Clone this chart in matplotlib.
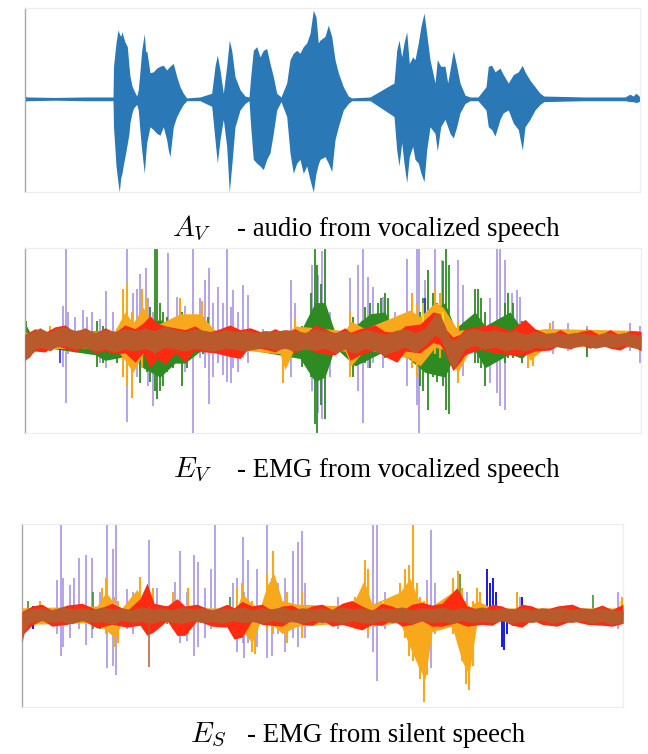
import numpy as np
import matplotlib.pyplot as plt

plt.rcParams["mathtext.fontset"] = "cm"

# ---- A_V : audio envelope (t, upper, lower), t in frames, amplitude normalised ----
audio = [
    (0, 0.03, -0.03), (2, 0.02, -0.02), (30, 0.015, -0.015), (60, 0.02, -0.02), (88, 0.02, -0.02),
    (88.5, 0.35, -0.30), (90, 0.50, -0.55), (91, 0.60, -0.72), (93, 0.74, -0.90), (94.3, 0.70, -1.0),
    (95.7, 0.67, -0.85), (97, 0.72, -0.80), (98.5, 0.66, -0.70), (100, 0.61, -0.62), (102.3, 0.56, -0.48),
    (104, 0.35, -0.37), (105, 0.24, -0.25), (107, 0.14, -0.15), (108.5, 0.10, -0.10), (111.7, 0.03, -0.06),
    (113.3, 0.10, -0.12), (115, 0.30, -0.35), (116.7, 0.52, -0.55), (119.3, 0.70, -0.80), (120.7, 0.50, -0.60),
    (121.7, 0.52, -0.47), (125, 0.28, -0.30), (128.3, 0.29, -0.33), (131.7, 0.33, -0.37), (135, 0.35, -0.39),
    (138.3, 0.36, -0.30), (141.7, 0.31, -0.44), (143.3, 0.33, -0.55), (145, 0.35, -0.62), (148.3, 0.38, -0.30),
    (151.7, 0.24, -0.19), (155, 0.13, -0.12), (158.3, 0.06, -0.06), (161.7, 0.01, -0.02), (175, 0.02, -0.02),
    (186.7, 0.06, -0.08), (190, 0.35, -0.44), (192.3, 0.47, -0.69), (195, 0.31, -0.44), (198.3, 0.06, -0.22),
    (201.7, 0.35, -0.51), (204.3, 0.63, -1.0), (206.7, 0.52, -0.72), (210, 0.24, -0.30), (215, 0.10, -0.12),
    (220, 0.03, -0.05), (224, 0.02, -0.02),
    (225.7, 0.24, -0.30), (228.3, 0.52, -0.65), (231.7, 0.56, -0.69), (235, 0.45, -0.72), (238.3, 0.52, -0.76),
    (241.7, 0.54, -0.65), (245, 0.38, -0.58), (248.3, 0.24, -0.37), (251.7, 0.06, -0.12), (256, 0.02, -0.03),
    (261.7, 0.17, -0.19), (265, 0.42, -0.58), (268.3, 0.49, -0.80), (271.7, 0.52, -0.69), (275, 0.49, -0.65),
    (278.3, 0.56, -0.80), (281.7, 0.60, -0.72), (285, 0.70, -0.87), (288.3, 0.95, -1.0), (291, 0.88, -0.80),
    (293.3, 0.60, -0.70), (295, 0.63, -0.65), (300, 0.67, -0.62), (303.3, 0.79, -0.69), (306.7, 0.67, -0.78),
    (310, 0.42, -0.44), (313.3, 0.28, -0.30), (318.3, 0.13, -0.12), (323.3, 0.03, -0.05), (326.7, 0.01, -0.02),
    (345, 0.02, -0.02),
    (369, 0.17, -0.19), (371.7, 0.52, -0.55), (374, 0.63, -0.72), (376.7, 0.45, -0.47), (379, 0.60, -0.69),
    (381.7, 0.72, -0.90), (384.3, 0.38, -0.62), (387.7, 0.45, -0.51), (390, 0.42, -0.65), (393.3, 0.60, -0.69),
    (396, 0.78, -0.80), (399, 0.92, -0.89), (401.7, 0.70, -0.55), (405, 0.42, -0.30), (410, 0.17, -0.37),
    (412.3, 0.42, -0.56), (415.7, 0.35, -0.30), (420, 0.35, -0.22), (422.7, 0.17, -0.30), (425, 0.31, -0.37),
    (428.3, 0.52, -0.42), (431.7, 0.35, -0.30), (435, 0.17, -0.15), (440, 0.04, -0.05), (445, 0.02, -0.02),
    (453, 0.02, -0.02),
    (461, 0.13, -0.12), (463.3, 0.35, -0.30), (466.7, 0.36, -0.33), (470, 0.29, -0.40), (475, 0.33, -0.22),
    (478.3, 0.26, -0.15), (483.3, 0.17, -0.12), (488.3, 0.26, -0.26), (493.3, 0.29, -0.33), (497.3, 0.36, -0.55),
    (500, 0.29, -0.30), (505, 0.20, -0.22), (510, 0.13, -0.12), (515, 0.06, -0.06), (519, 0.03, -0.03),
    (560, 0.02, -0.02), (600, 0.02, -0.02), (605, 0.05, -0.03), (608, 0.03, -0.03), (611, 0.06, -0.04),
    (614, 0.03, -0.03), (615, 0.02, -0.02),
]

# ---- E_V : EMG from vocalized speech ----
ev_purple = [
    (38.3, 0.36, -0.29), (41, 0.98, -0.68), (43.3, 0.30, -0.15), (50, 0.25, -0.10), (57.7, 0.32, -0.12),
    (62.3, 0.25, -0.10), (66.7, 0.30, -0.08), (75, 0.22, -0.25), (81, 0.52, -0.30), (88.3, 0.30, -0.20),
    (102.3, 0.98, -0.88), (107.7, 0.50, -0.25), (111.7, 0.55, -0.40), (115, 0.71, -0.35), (120.7, 0.77, -0.30),
    (123.3, 0.45, -0.50), (128.3, 0.30, -0.71), (143.3, 0.93, -0.20), (151.7, 0.46, -0.25), (160, 0.36, -0.35),
    (167.7, 0.98, -1.0), (175, 0.45, -0.20), (180, 0.64, -0.30), (184.3, 0.77, -0.69), (188.3, 0.40, -0.40),
    (193.3, 0.57, -0.25), (197.7, 0.40, -0.38), (201.7, 0.98, -0.45), (206, 0.35, -0.46), (208.3, 0.54, -0.30),
    (213.3, 0.30, -0.35), (218.3, 0.59, -0.20), (223.3, 0.48, -0.25), (238.3, 0.12, -0.12), (266, 0.64, -0.40),
    (270, 0.40, -0.15), (286.7, 0.80, -0.55), (293.3, 0.70, -0.79), (296.7, 0.95, -0.85), (305, 0.30, -0.40),
    (325, 0.66, -0.30), (333.3, 0.80, -0.55), (337.7, 0.98, -0.89), (343.3, 0.68, -0.30), (348.3, 0.57, -0.25),
    (358.3, 0.46, -0.30), (370, 0.30, -0.20), (381.7, 0.87, -0.50), (391.7, 0.98, -0.70), (394, 0.98, -1.0),
    (400, 0.64, -0.35), (410, 0.98, -0.30), (416.7, 0.86, -0.25), (433.3, 0.86, -0.30), (438.3, 0.59, -0.39),
    (465, 0.45, -0.46), (471.7, 0.98, -0.57), (475, 0.98, -0.71), (480, 0.86, -0.75), (486.7, 0.50, -0.15),
    (491.7, 0.54, -0.15), (495, 0.46, -0.20), (528.3, 0.20, -0.15), (543.3, 0.18, -0.12), (561.7, 0.15, -0.10),
    (605, 0.18, -0.12), (615, 0.15, -0.25),
]
ev_green = [
    (0.5, 0.20, -0.20), (71.7, 0.20, -0.29), (78.3, 0.15, -0.25), (91.7, 0.12, -0.25), (115, 0.20, -0.46),
    (121.7, 0.25, -0.35), (125, 0.35, -0.45), (130, 0.98, -0.55), (132.3, 0.98, -0.64), (135, 0.40, -0.55),
    (138, 0.30, -0.50), (142, 0.25, -0.35), (148.3, 0.20, -0.30), (156.7, 0.30, -0.50), (161.7, 0.25, -0.30),
    (178.3, 0.25, -0.15), (183.3, 0.25, -0.10), (276.7, 0.15, -0.29), (286, 0.50, -0.40), (290, 0.98, -0.90),
    (292.3, 0.80, -1.0), (296, 0.60, -0.70), (300, 0.98, -0.85), (328.3, 0.25, -0.40), (336.7, 0.20, -0.25),
    (340, 0.35, -0.25), (345, 0.40, -0.30), (353.3, 0.40, -0.15), (356, 0.45, -0.15), (360, 0.50, -0.20),
    (363.3, 0.45, -0.10), (395, 0.30, -0.50), (398, 0.45, -0.55), (403.3, 0.75, -0.75), (408.3, 0.50, -0.40),
    (412, 0.40, -0.45), (418, 0.85, -0.50), (421, 0.98, -0.75), (424.3, 0.80, -0.80), (450, 0.55, -0.25),
    (453.3, 0.55, -0.25), (456, 0.45, -0.30), (460, 0.30, -0.50), (480, 0.40, -0.25), (483.3, 0.50, -0.20),
    (488.3, 0.40, -0.20), (496.7, 0.20, -0.25), (561.7, 0.12, -0.18),
]
ev_green_band = [
    (0, 0.18, -0.12), (6, 0.06, -0.06), (70, 0.10, -0.16), (80, 0.10, -0.22), (110, 0.08, -0.16),
    (118, 0.15, -0.30), (135, 0.22, -0.40), (150, 0.12, -0.25), (160, 0.15, -0.25), (180, 0.15, -0.08),
    (200, 0.06, -0.06), (275, 0.08, -0.20), (290, 0.40, -0.45), (300, 0.40, -0.40), (310, 0.08, -0.08),
    (330, 0.15, -0.28), (345, 0.28, -0.20), (360, 0.30, -0.12), (370, 0.08, -0.08), (400, 0.25, -0.35),
    (420, 0.40, -0.40), (430, 0.12, -0.15), (450, 0.30, -0.12), (460, 0.15, -0.30), (485, 0.30, -0.15),
    (497, 0.12, -0.20), (510, 0.06, -0.06), (616, 0.06, -0.06),
]
ev_orange = [
    (25, 0.15, -0.05), (98.3, 0.55, -0.40), (101.7, 0.60, -0.50), (106.7, 0.30, -0.62), (116.7, 0.55, -0.30),
    (121.7, 0.45, -0.20), (155, 0.45, -0.15), (176.7, 0.42, -0.10), (258.3, 0.10, -0.46), (270, 0.25, -0.10),
    (325, 0.30, -0.40), (386.7, 0.50, -0.30), (391.7, 0.40, -0.40), (410, 0.55, -0.15), (415, 0.50, -0.20),
    (433.3, 0.20, -0.46), (503.3, 0.15, -0.30), (508.3, 0.10, -0.28), (525, 0.18, -0.08),
]
ev_orange_band = [
    (0, 0.08, -0.10), (90, 0.10, -0.08), (100, 0.30, -0.22), (108, 0.18, -0.35), (118, 0.35, -0.15),
    (130, 0.15, -0.10), (155, 0.28, -0.08), (175, 0.28, -0.08), (190, 0.10, -0.08), (255, 0.08, -0.15),
    (260, 0.05, -0.32), (270, 0.15, -0.08), (320, 0.10, -0.12), (326, 0.20, -0.28), (340, 0.12, -0.10),
    (385, 0.32, -0.20), (395, 0.25, -0.28), (410, 0.40, -0.08), (418, 0.35, -0.10), (433, 0.10, -0.35),
    (445, 0.12, -0.10), (500, 0.08, -0.12), (505, 0.10, -0.22), (520, 0.12, -0.08), (530, 0.12, -0.06),
    (616, 0.10, -0.08),
]
ev_blue = [
    (35, 0.05, -0.25), (100, 0.10, -0.20), (210, 0.10, -0.05), (400, 0.45, -0.10), (413, 0.35, 0.0),
    (470, 0.15, -0.10), (565, 0.10, -0.05),
]
ev_yellow = [
    (110, 0.10, -0.20), (125, 0.15, -0.20), (330, 0.10, -0.10), (398, 0.40, -0.10), (418, 0.30, -0.10),
]
ev_red_band = [
    (0, 0.06, -0.20), (10, 0.12, -0.12), (20, 0.08, -0.13), (30, 0.14, -0.06), (40, 0.16, -0.09),
    (50, 0.08, -0.13), (60, 0.13, -0.07), (70, 0.07, -0.14), (80, 0.13, -0.12), (90, 0.08, -0.15),
    (100, 0.16, -0.14), (110, 0.12, -0.24), (118, 0.18, -0.14), (125, 0.26, -0.30), (132, 0.18, -0.20),
    (140, 0.15, -0.26), (150, 0.13, -0.14), (160, 0.11, -0.24), (170, 0.15, -0.11), (180, 0.08, -0.13),
    (190, 0.10, -0.14), (205, 0.16, -0.18), (215, 0.11, -0.20), (225, 0.13, -0.07), (240, 0.07, -0.10),
    (250, 0.12, -0.13), (260, 0.07, -0.07), (270, 0.12, -0.14), (280, 0.06, -0.08), (290, 0.16, -0.13),
    (300, 0.12, -0.15), (310, 0.07, -0.16), (320, 0.13, -0.08), (325, 0.08, -0.22), (335, 0.12, -0.16),
    (350, 0.16, -0.11), (360, 0.09, -0.18), (372, 0.08, -0.24), (380, 0.15, -0.12), (395, 0.17, -0.14),
    (408, 0.30, -0.03), (415, 0.28, -0.05), (420, 0.12, -0.14), (428, 0.03, -0.33), (435, 0.06, -0.24),
    (440, 0.12, -0.16), (455, 0.15, -0.10), (470, 0.16, -0.14), (485, 0.10, -0.16), (500, 0.22, -0.16),
    (510, 0.12, -0.12), (525, 0.05, -0.11), (535, 0.11, -0.05), (545, 0.05, -0.10), (555, 0.09, -0.05),
    (565, 0.11, -0.09), (575, 0.05, -0.05), (585, 0.11, -0.09), (595, 0.05, -0.11), (605, 0.10, -0.05),
    (616, 0.09, -0.12),
]
ev_brown_band = [
    (0, 0.05, -0.22), (5, 0.08, -0.18), (10, 0.10, -0.10), (15, 0.13, -0.08), (20, 0.10, -0.09),
    (25, 0.08, -0.12), (30, 0.12, -0.08), (40, 0.14, -0.06), (50, 0.10, -0.10), (60, 0.12, -0.08),
    (70, 0.08, -0.12), (80, 0.11, -0.10), (90, 0.09, -0.13), (100, 0.12, -0.10), (110, 0.10, -0.12),
    (120, 0.13, -0.09), (130, 0.10, -0.14), (140, 0.15, -0.08), (150, 0.11, -0.10), (160, 0.09, -0.12),
    (170, 0.12, -0.09), (180, 0.10, -0.11), (190, 0.08, -0.12), (200, 0.11, -0.09), (210, 0.09, -0.10),
    (220, 0.10, -0.12), (230, 0.08, -0.10), (240, 0.10, -0.08), (250, 0.09, -0.11), (260, 0.11, -0.09),
    (270, 0.10, -0.12), (280, 0.08, -0.10), (290, 0.12, -0.11), (300, 0.10, -0.09), (310, 0.08, -0.14),
    (320, 0.10, -0.10), (330, 0.07, -0.15), (340, 0.11, -0.09), (350, 0.09, -0.12), (360, 0.06, -0.16),
    (370, 0.10, -0.12), (380, 0.12, -0.08), (390, 0.08, -0.14), (400, 0.12, -0.06), (405, 0.20, 0.00),
    (410, 0.28, 0.05), (415, 0.27, 0.02), (420, 0.15, -0.10), (425, 0.02, -0.26), (430, 0.00, -0.30),
    (435, 0.05, -0.18), (440, 0.10, -0.10), (450, 0.12, -0.06), (460, 0.09, -0.10), (470, 0.11, -0.08),
    (480, 0.08, -0.12), (490, 0.10, -0.10), (500, 0.06, -0.12), (510, 0.09, -0.08), (520, 0.07, -0.09),
    (530, 0.08, -0.07), (540, 0.06, -0.09), (550, 0.08, -0.08), (560, 0.07, -0.06), (570, 0.05, -0.09),
    (580, 0.08, -0.07), (590, 0.06, -0.08), (600, 0.08, -0.06), (610, 0.06, -0.09), (616, 0.04, -0.10),
]

# ---- E_S : EMG from silent speech ----
es_purple = [
    (34.7, 0.38, -0.20), (38.7, 0.99, -0.45), (41.3, 0.40, -0.35), (48, 0.33, -0.25), (52, 0.40, -0.10),
    (57.3, 0.62, -0.15), (64, 0.66, -0.33), (69.7, 0.62, -0.25), (78, 0.25, -0.15), (85.3, 0.98, -0.58),
    (91.3, 0.72, -0.55), (93.7, 0.98, -0.65), (104.7, 0.28, -0.15), (111.3, 0.25, -0.20), (127, 0.82, -0.15),
    (134.7, 0.30, -0.15), (153, 0.36, -0.15), (158, 0.70, -0.30), (164.7, 0.25, -0.28), (172.3, 0.65, -0.45),
    (175.7, 0.58, -0.35), (183, 0.30, -0.25), (189, 0.50, -0.15), (193, 0.98, -0.12), (211.3, 0.35, -0.20),
    (214.7, 0.40, -0.40), (220.7, 0.85, -0.30), (222.3, 0.25, -0.47), (226.3, 0.60, -0.30), (234.7, 0.50, -0.35),
    (244.7, 0.98, -0.47), (249.7, 0.40, -0.45), (256.3, 0.35, -0.20), (263, 0.40, -0.40), (270.7, 0.70, -0.25),
    (275.7, 0.80, -0.35), (279.7, 0.92, -0.20), (283, 0.35, -0.25), (316.3, 0.20, -0.15), (346.3, 0.35, -0.25),
    (351.3, 0.98, -0.40), (355.3, 0.98, -0.72), (363, 0.25, -0.15), (385.3, 0.30, -0.20), (404.7, 0.38, -0.20),
    (409, 0.93, -0.58), (413, 0.35, -0.20), (444.7, 0.25, -0.20), (498, 0.20, -0.10), (596.3, 0.25, -0.15),
]
es_orange = [
    (18, 0.15, -0.05), (79.7, 0.30, -0.15), (84, 0.40, -0.20), (93, 0.20, -0.35), (96.3, 0.15, -0.30),
    (118, 0.42, -0.10), (131.3, 0.30, -0.10), (151.3, 0.25, -0.15), (166.3, 0.30, -0.20), (214.7, 0.30, -0.15),
    (219.7, 0.35, -0.20), (229.7, 0.15, -0.40), (233, 0.10, -0.42), (244.7, 0.45, -0.15), (251.3, 0.70, -0.20),
    (264.7, 0.25, -0.30), (279.7, 0.25, -0.25), (333, 0.20, -0.15), (343, 0.60, -0.10), (346.3, 0.50, -0.20),
    (378, 0.35, -0.10), (383, 0.50, -0.25), (387.3, 0.55, -0.45), (391.3, 0.98, -0.50), (394.7, 0.35, -0.50),
    (398, 0.20, -0.70), (402, 0.15, -0.95), (405.3, 0.20, -0.65), (431.3, 0.40, -0.20), (436.3, 0.48, -0.30),
    (439.7, 0.30, -0.50), (443.7, 0.15, -0.75), (447, 0.10, -0.82), (450.7, 0.15, -0.55), (454.7, 0.30, -0.10),
    (458, 0.25, -0.10), (494.7, 0.25, -0.10), (599.7, 0.20, -0.10),
]
es_orange_band = [
    (0, 0.08, -0.10), (75, 0.10, -0.08), (84, 0.25, -0.16), (93, 0.12, -0.25), (100, 0.08, -0.08),
    (115, 0.28, -0.06), (125, 0.08, -0.06), (215, 0.08, -0.08), (220, 0.24, -0.16), (230, 0.12, -0.30),
    (238, 0.08, -0.08), (245, 0.32, -0.08), (252, 0.45, -0.12), (260, 0.16, -0.20), (275, 0.12, -0.12),
    (330, 0.10, -0.08), (342, 0.38, -0.08), (350, 0.12, -0.12), (378, 0.25, -0.08), (388, 0.40, -0.35),
    (396, 0.18, -0.55), (403, 0.12, -0.70), (410, 0.10, -0.18), (430, 0.25, -0.12), (440, 0.16, -0.50),
    (447, 0.08, -0.65), (455, 0.16, -0.08), (470, 0.08, -0.06), (601, 0.08, -0.06),
]
es_blue = [
    (11.3, 0.10, -0.15), (271.3, 0.10, -0.10), (464.7, 0.50, -0.10), (468, 0.35, -0.05), (471.3, 0.40, -0.05),
    (474, 0.25, 0.0), (479.7, 0.0, -0.35), (482, 0.0, -0.38), (484.7, 0.0, -0.20), (499.7, 0.20, -0.05),
]
es_green = [
    (6.3, 0.15, -0.05), (71.3, 0.25, -0.15), (78, 0.10, -0.15), (144.7, 0.10, -0.10), (208, 0.20, -0.05),
    (308, 0.10, -0.10), (438, 0.45, -0.10), (571.3, 0.22, -0.05),
]
es_yellow = [(94.7, 0.05, -0.10), (361.3, 0.15, -0.05), (598, 0.15, -0.10)]
es_red_band = [
    (0, 0.04, -0.22), (10, 0.10, -0.11), (20, 0.12, -0.05), (30, 0.05, -0.12), (45, 0.11, -0.10),
    (60, 0.13, -0.05), (75, 0.06, -0.14), (90, 0.13, -0.10), (105, 0.05, -0.13), (118, 0.18, -0.11),
    (125, 0.35, -0.22), (132, 0.13, -0.18), (145, 0.10, -0.06), (155, 0.18, -0.22), (163, 0.10, -0.22),
    (175, 0.12, -0.06), (190, 0.05, -0.12), (205, 0.12, -0.13), (212, 0.08, -0.26), (220, 0.15, -0.24),
    (230, 0.10, -0.06), (240, 0.12, -0.10), (250, 0.05, -0.11), (260, 0.10, -0.12), (270, 0.11, -0.05),
    (280, 0.05, -0.10), (290, 0.10, -0.11), (300, 0.12, -0.05), (310, 0.06, -0.12), (320, 0.13, -0.10),
    (330, 0.16, -0.13), (340, 0.10, -0.16), (350, 0.05, -0.10), (360, 0.13, -0.11), (370, 0.10, -0.05),
    (380, 0.05, -0.12), (390, 0.12, -0.10), (400, 0.14, -0.06), (410, 0.11, -0.12), (420, 0.13, -0.12),
    (435, 0.30, -0.08), (445, 0.10, -0.12), (460, 0.05, -0.10), (470, 0.12, -0.11), (480, 0.10, -0.05),
    (490, 0.05, -0.11), (500, 0.12, -0.13), (510, 0.10, -0.05), (520, 0.05, -0.10), (535, 0.10, -0.12),
    (550, 0.12, -0.06), (565, 0.05, -0.10), (580, 0.11, -0.11), (590, 0.06, -0.12), (601, 0.12, -0.09),
]
es_brown = [(127, 0.10, -0.56)]
es_brown_band = [
    (0, 0.00, -0.30), (3, 0.05, -0.15), (8, 0.07, -0.08), (20, 0.08, -0.06), (30, 0.06, -0.08),
    (40, 0.09, -0.07), (50, 0.07, -0.09), (60, 0.08, -0.06), (70, 0.06, -0.08), (80, 0.09, -0.07),
    (90, 0.07, -0.10), (100, 0.08, -0.06), (110, 0.06, -0.08), (120, 0.09, -0.07), (130, 0.07, -0.09),
    (140, 0.08, -0.06), (150, 0.06, -0.08), (160, 0.09, -0.09), (170, 0.07, -0.06), (180, 0.08, -0.08),
    (190, 0.06, -0.07), (200, 0.08, -0.09), (210, 0.07, -0.06), (220, 0.09, -0.08), (230, 0.06, -0.07),
    (240, 0.08, -0.09), (250, 0.07, -0.06), (260, 0.09, -0.08), (270, 0.06, -0.07), (280, 0.08, -0.09),
    (290, 0.07, -0.06), (300, 0.08, -0.08), (310, 0.06, -0.07), (320, 0.09, -0.09), (330, 0.07, -0.06),
    (340, 0.08, -0.08), (350, 0.06, -0.09), (360, 0.08, -0.06), (370, 0.07, -0.08), (380, 0.09, -0.07),
    (390, 0.06, -0.09), (400, 0.08, -0.06), (410, 0.07, -0.08), (420, 0.09, -0.07), (430, 0.06, -0.09),
    (440, 0.08, -0.06), (450, 0.07, -0.08), (460, 0.09, -0.07), (470, 0.06, -0.08), (480, 0.08, -0.06),
    (490, 0.07, -0.09), (500, 0.08, -0.07), (510, 0.06, -0.08), (520, 0.08, -0.06), (530, 0.07, -0.09),
    (540, 0.09, -0.07), (550, 0.06, -0.08), (560, 0.08, -0.06), (570, 0.07, -0.09), (580, 0.08, -0.07),
    (590, 0.06, -0.10), (601, 0.05, -0.08),
]

captions = [
    (r"$A_V$", "- audio from vocalized speech"),
    (r"$E_V$", "- EMG from vocalized speech"),
    (r"$E_S$", "- EMG from silent speech"),
]

# colours
PURPLE = "#a08ae6"
GREEN = "#2e8b22"
ORANGE = "#f7a81b"
RED = "#ff2a10"
BROWN = "#b85a2c"
BLUE = "#1a1ae0"
YELLOW = "#f0f000"
AUDIO = "#2a78b6"


def band(ax, data, color, z):
    t, hi, lo = np.array(data).T
    ax.fill_between(t, lo, hi, color=color, lw=0, zorder=z)


def spikes(ax, data, color, z, lw=1.1):
    t, hi, lo = np.array(data).T
    ax.vlines(t, lo, hi, color=color, lw=lw, zorder=z)


def frame(ax):
    ax.set_xticks([])
    ax.set_yticks([])
    for s in ["top", "right", "bottom"]:
        ax.spines[s].set_color("#ececec")
        ax.spines[s].set_linewidth(0.8)
    ax.spines["left"].set_color("#a8a8a8")
    ax.spines["left"].set_linewidth(1.0)


fig = plt.figure(figsize=(6.48, 7.54), dpi=100)
W, H = 648, 754

# audio
ax1 = fig.add_axes([25 / W, 1 - 192 / H, 615 / W, 184 / H])
band(ax1, audio, AUDIO, 2)
ax1.set_xlim(0, 615)
ax1.set_ylim(-1.0, 0.975)
frame(ax1)

# EMG vocalized
ax2 = fig.add_axes([25 / W, 1 - 433 / H, 616 / W, 185 / H])
spikes(ax2, ev_purple, PURPLE, 1)
band(ax2, ev_green_band, GREEN, 2)
spikes(ax2, ev_green, GREEN, 2, lw=1.3)
spikes(ax2, ev_blue, BLUE, 3)
band(ax2, ev_orange_band, ORANGE, 4)
spikes(ax2, ev_orange, ORANGE, 4, lw=1.5)
spikes(ax2, ev_yellow, YELLOW, 5)
band(ax2, ev_red_band, RED, 6)
band(ax2, ev_brown_band, BROWN, 7)
ax2.set_xlim(0, 616)
ax2.set_ylim(-1.0, 0.986)
frame(ax2)

# EMG silent
ax3 = fig.add_axes([22 / W, 1 - 707 / H, 601 / W, 183 / H])
spikes(ax3, es_purple, PURPLE, 1)
spikes(ax3, es_green, GREEN, 2)
spikes(ax3, es_blue, BLUE, 3, lw=1.4)
band(ax3, es_orange_band, ORANGE, 4)
spikes(ax3, es_orange, ORANGE, 4, lw=1.5)
spikes(ax3, es_yellow, YELLOW, 5)
band(ax3, es_red_band, RED, 6)
band(ax3, es_brown_band, BROWN, 7)
spikes(ax3, es_brown, BROWN, 7)
ax3.set_xlim(0, 601)
ax3.set_ylim(-1.0, 0.993)
frame(ax3)

# captions (math symbol + description)
cap_pos = [(172, 237, 236), (173, 237, 477), (190, 247, 742)]
for (sym, desc), (xm, xt, yb) in zip(captions, cap_pos):
    fig.text(xm / W, 1 - yb / H, sym, fontsize=21, va="baseline", ha="left")
    fig.text(xt / W, 1 - yb / H, desc, fontsize=19.3, family="Liberation Serif",
             va="baseline", ha="left")

fig.savefig("out.png", dpi=100)
